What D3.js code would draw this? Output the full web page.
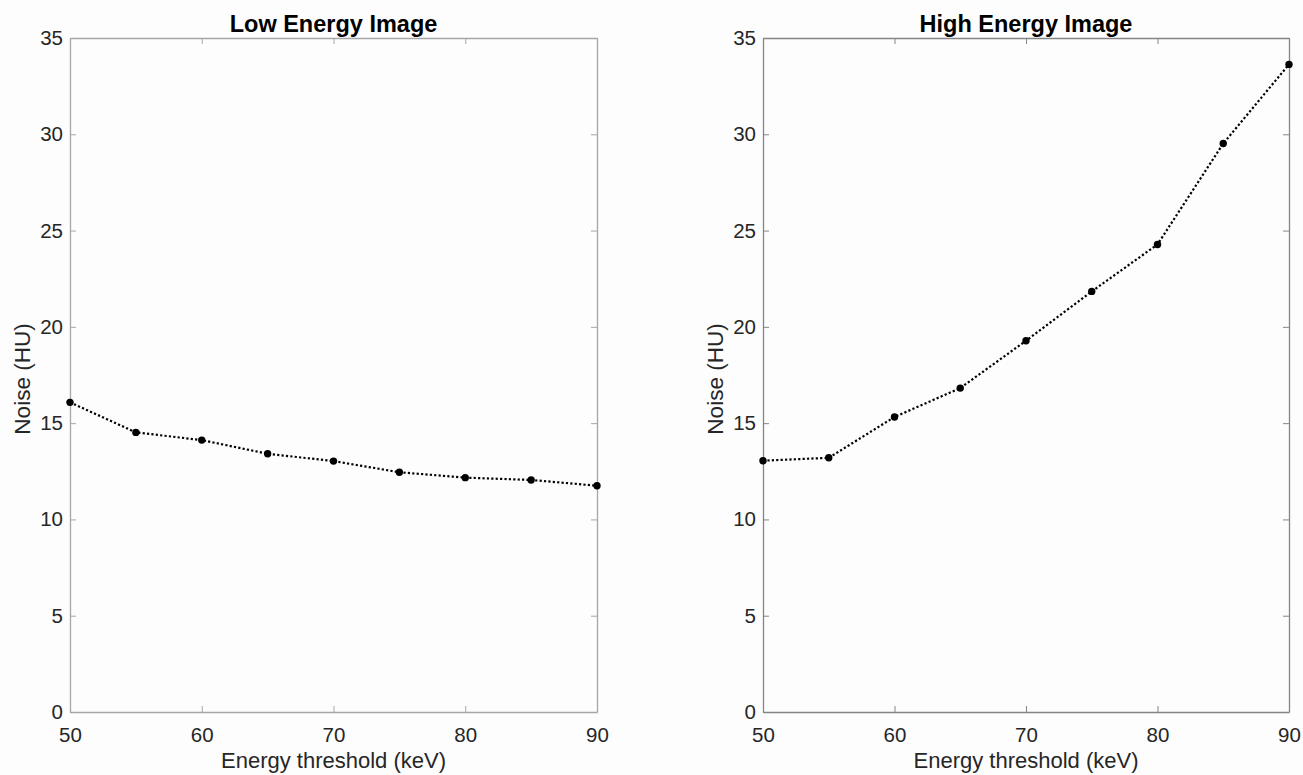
<!DOCTYPE html>
<html>
<head>
<meta charset="utf-8">
<script src="https://cdn.jsdelivr.net/npm/d3@7"></script>
<style>
  html, body { margin: 0; padding: 0; background: #fdfdfd; }
  svg { display: block; }
  text { font-family: "Liberation Sans", Arial, sans-serif; }
</style>
</head>
<body>
<svg id="chart" width="1303" height="775"></svg>
<script>
// ---- data ----
const energyThresholds = [50, 55, 60, 65, 70, 75, 80, 85, 90];
const lowEnergyNoise  = [16.08, 14.52, 14.12, 13.41, 13.03, 12.45, 12.17, 12.05, 11.75];
const highEnergyNoise = [13.05, 13.2, 15.32, 16.82, 19.28, 21.84, 24.28, 29.52, 33.63];
const xTicks = [50, 60, 70, 80, 90];
const yTicks = [0, 5, 10, 15, 20, 25, 30, 35];
const panelTitles = ["Low Energy Image", "High Energy Image"];
const xLabel = "Energy threshold (keV)";
const yLabel = "Noise (HU)";

const svg = d3.select("#chart");

const panels = [
  { title: panelTitles[0], values: lowEnergyNoise,  left: 70,  right: 597,  axisColor: "#a6a6a6" },
  { title: panelTitles[1], values: highEnergyNoise, left: 763, right: 1289, axisColor: "#858585" }
];
const plotTop = 38, plotBottom = 712;

panels.forEach(p => {
  const x = d3.scaleLinear().domain([50, 90]).range([p.left, p.right]);
  const y = d3.scaleLinear().domain([0, 35]).range([plotBottom, plotTop]);
  const g = svg.append("g");

  const tickLen = 6;
  const axB = g.append("g").attr("transform", `translate(0,${plotBottom})`)
    .call(d3.axisBottom(x).tickValues(xTicks).tickSizeInner(-tickLen).tickSizeOuter(0).tickPadding(14));
  const axT = g.append("g").attr("transform", `translate(0,${plotTop})`)
    .call(d3.axisTop(x).tickValues(xTicks).tickSizeInner(-tickLen).tickSizeOuter(0).tickFormat(""));
  const axL = g.append("g").attr("transform", `translate(${p.left},0)`)
    .call(d3.axisLeft(y).tickValues(yTicks).tickSizeInner(-tickLen).tickSizeOuter(0).tickPadding(14));
  const axR = g.append("g").attr("transform", `translate(${p.right},0)`)
    .call(d3.axisRight(y).tickValues(yTicks).tickSizeInner(-tickLen).tickSizeOuter(0).tickFormat(""));

  [axB, axT, axL, axR].forEach(a => {
    a.select(".domain").attr("stroke", p.axisColor).attr("stroke-width", 1.3);
    a.selectAll(".tick line").attr("stroke", p.axisColor).attr("stroke-width", 1);
    a.selectAll("text").attr("fill", "#262626").style("font-size", "20.5px")
      .style("font-family", "'Liberation Sans', Arial, sans-serif");
  });
  axB.selectAll("text").attr("dy", "0.71em").attr("y", 15);
  axL.selectAll("text").attr("x", -7);

  const line = d3.line().x((d, i) => x(energyThresholds[i])).y(d => y(d));
  g.append("path").datum(p.values)
    .attr("d", line)
    .attr("fill", "none")
    .attr("stroke", "#000")
    .attr("stroke-width", 2.2)
    .attr("stroke-dasharray", "2.2,2.2");

  g.selectAll("circle.pt").data(p.values).enter().append("circle")
    .attr("class", "pt")
    .attr("cx", (d, i) => x(energyThresholds[i]))
    .attr("cy", d => y(d))
    .attr("r", 3.7)
    .attr("fill", "#000");

  g.append("text")
    .attr("x", (p.left + p.right) / 2)
    .attr("y", 32)
    .attr("text-anchor", "middle")
    .style("font-size", "23.5px")
    .style("font-weight", "bold")
    .attr("fill", "#000")
    .text(p.title);

  g.append("text")
    .attr("x", (p.left + p.right) / 2)
    .attr("y", 768)
    .attr("text-anchor", "middle")
    .style("font-size", "22px")
    .attr("fill", "#262626")
    .text(xLabel);

  g.append("text")
    .attr("transform", `translate(${p.left - 40},${(plotTop + plotBottom) / 2 + 4}) rotate(-90)`)
    .attr("text-anchor", "middle")
    .style("font-size", "22.5px")
    .attr("fill", "#262626")
    .text(yLabel);
});
</script>
</body>
</html>
